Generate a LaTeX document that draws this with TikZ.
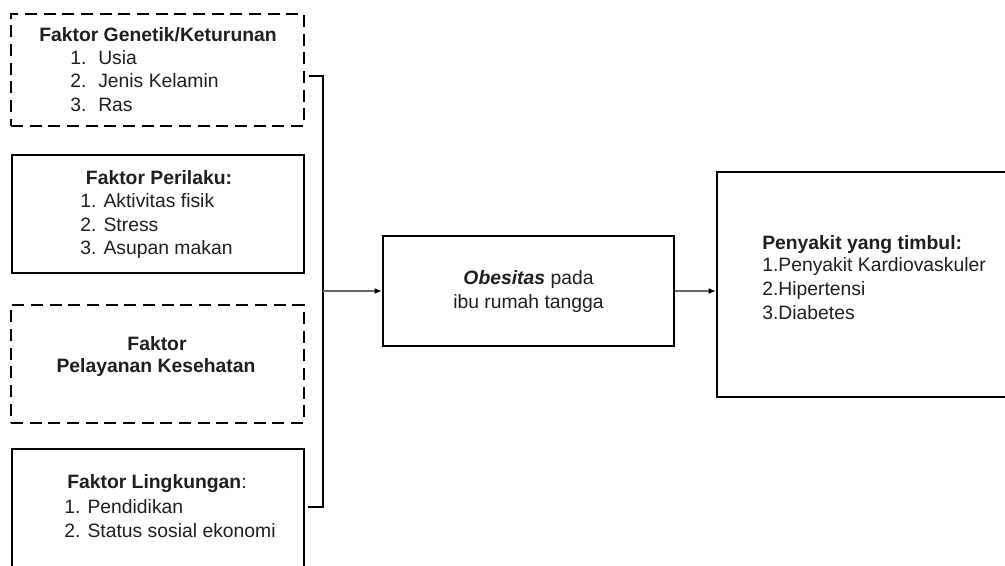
\documentclass[tikz,border=0pt]{standalone}
\usepackage{fontspec}
\setmainfont{Liberation Sans}
\usetikzlibrary{arrows.meta}
\begin{document}
\begin{tikzpicture}[x=0.75pt,y=-0.75pt,
  solidbox/.style={draw=black,line width=1.7pt,inner sep=0pt,fill=none},
  dashbox/.style={solidbox,dash pattern=on 9pt off 5pt},
  txt/.style={inner sep=0pt,font=\fontsize{14.5}{17.5}\selectfont,text=black!88},
  tc/.style={txt,anchor=base},
  tl/.style={txt,anchor=base west},
  bracket/.style={draw=black,line width=1.6pt},
  arrowline/.style={draw=black!60,line width=1.3pt,-{Latex[length=5.5pt,width=4.5pt,color=black]}}
]
\clip (0,0) rectangle (1005,566);
\fill[white] (0,0) rectangle (1005,566);
% boxes
\node[dashbox,minimum width=219.75pt,minimum height=84pt] (g1) at (157.5,70) {};
\node[solidbox,minimum width=219pt,minimum height=88.5pt] (g2) at (158,214) {};
\node[dashbox,minimum width=219.75pt,minimum height=88.5pt] (g3) at (157.5,364) {};
\node[solidbox,minimum width=219pt,minimum height=113.25pt] (g4) at (158,524.5) {};
\node[solidbox,minimum width=218.25pt,minimum height=82.5pt] (ob) at (528.5,291) {};
\node[solidbox,minimum width=219.75pt,minimum height=168.75pt] (rb) at (863.5,284.5) {};
% box 1 text
\node[tc] (t1a) at (158,42) {\textbf{Faktor Genetik/Keturunan}};
\node[tl] (t1b) at (70,65) {\makebox[21pt][l]{1.}Usia};
\node[tl] (t1c) at (70,88) {\makebox[21pt][l]{2.}Jenis Kelamin};
\node[tl] (t1d) at (70,112) {\makebox[21pt][l]{3.}Ras};
% box 2 text
\node[tc] (t2a) at (159,185) {\textbf{Faktor Perilaku:}};
\node[tl] (t2b) at (80,208) {1. Aktivitas fisik};
\node[tl] (t2c) at (80,232) {2. Stress};
\node[tl] (t2d) at (80,255) {3. Asupan makan};
% box 3 text
\node[tc] (t3a) at (157,350) {\textbf{Faktor}};
\node[tc] (t3b) at (156,372) {\textbf{Pelayanan Kesehatan}};
% box 4 text
\node[tl] (t4a) at (67,488) {\textbf{Faktor Lingkungan}:};
\node[tl] (t4b) at (64,513) {1. Pendidikan};
\node[tl] (t4c) at (64,537) {2. Status sosial ekonomi};
% obesitas text
\node[tc] (t5a) at (528.5,285) {\textbf{\itshape Obesitas} pada};
\node[tc] (t5b) at (528.5,308) {ibu rumah tangga};
% right box text
\node[tl] (t6a) at (762,250) {\textbf{Penyakit yang timbul:}};
\node[tl] (t6b) at (762,272) {1.Penyakit Kardiovaskuler};
\node[tl] (t6c) at (762,296) {2.Hipertensi};
\node[tl] (t6d) at (762,319) {3.Diabetes};
% bracket
\coordinate (b1) at (309,76);
\coordinate (b2) at (323,76);
\coordinate (b3) at (323,507);
\coordinate (b4) at (308,507);
\coordinate (bm) at (323,291);
\draw[bracket] (b1) -- (b2) -- (b3) -- (b4);
% arrows
\draw[arrowline] (bm) -- (ob.west);
\draw[arrowline] (ob.east) -- (ob.east -| rb.west);
\end{tikzpicture}
\end{document}
